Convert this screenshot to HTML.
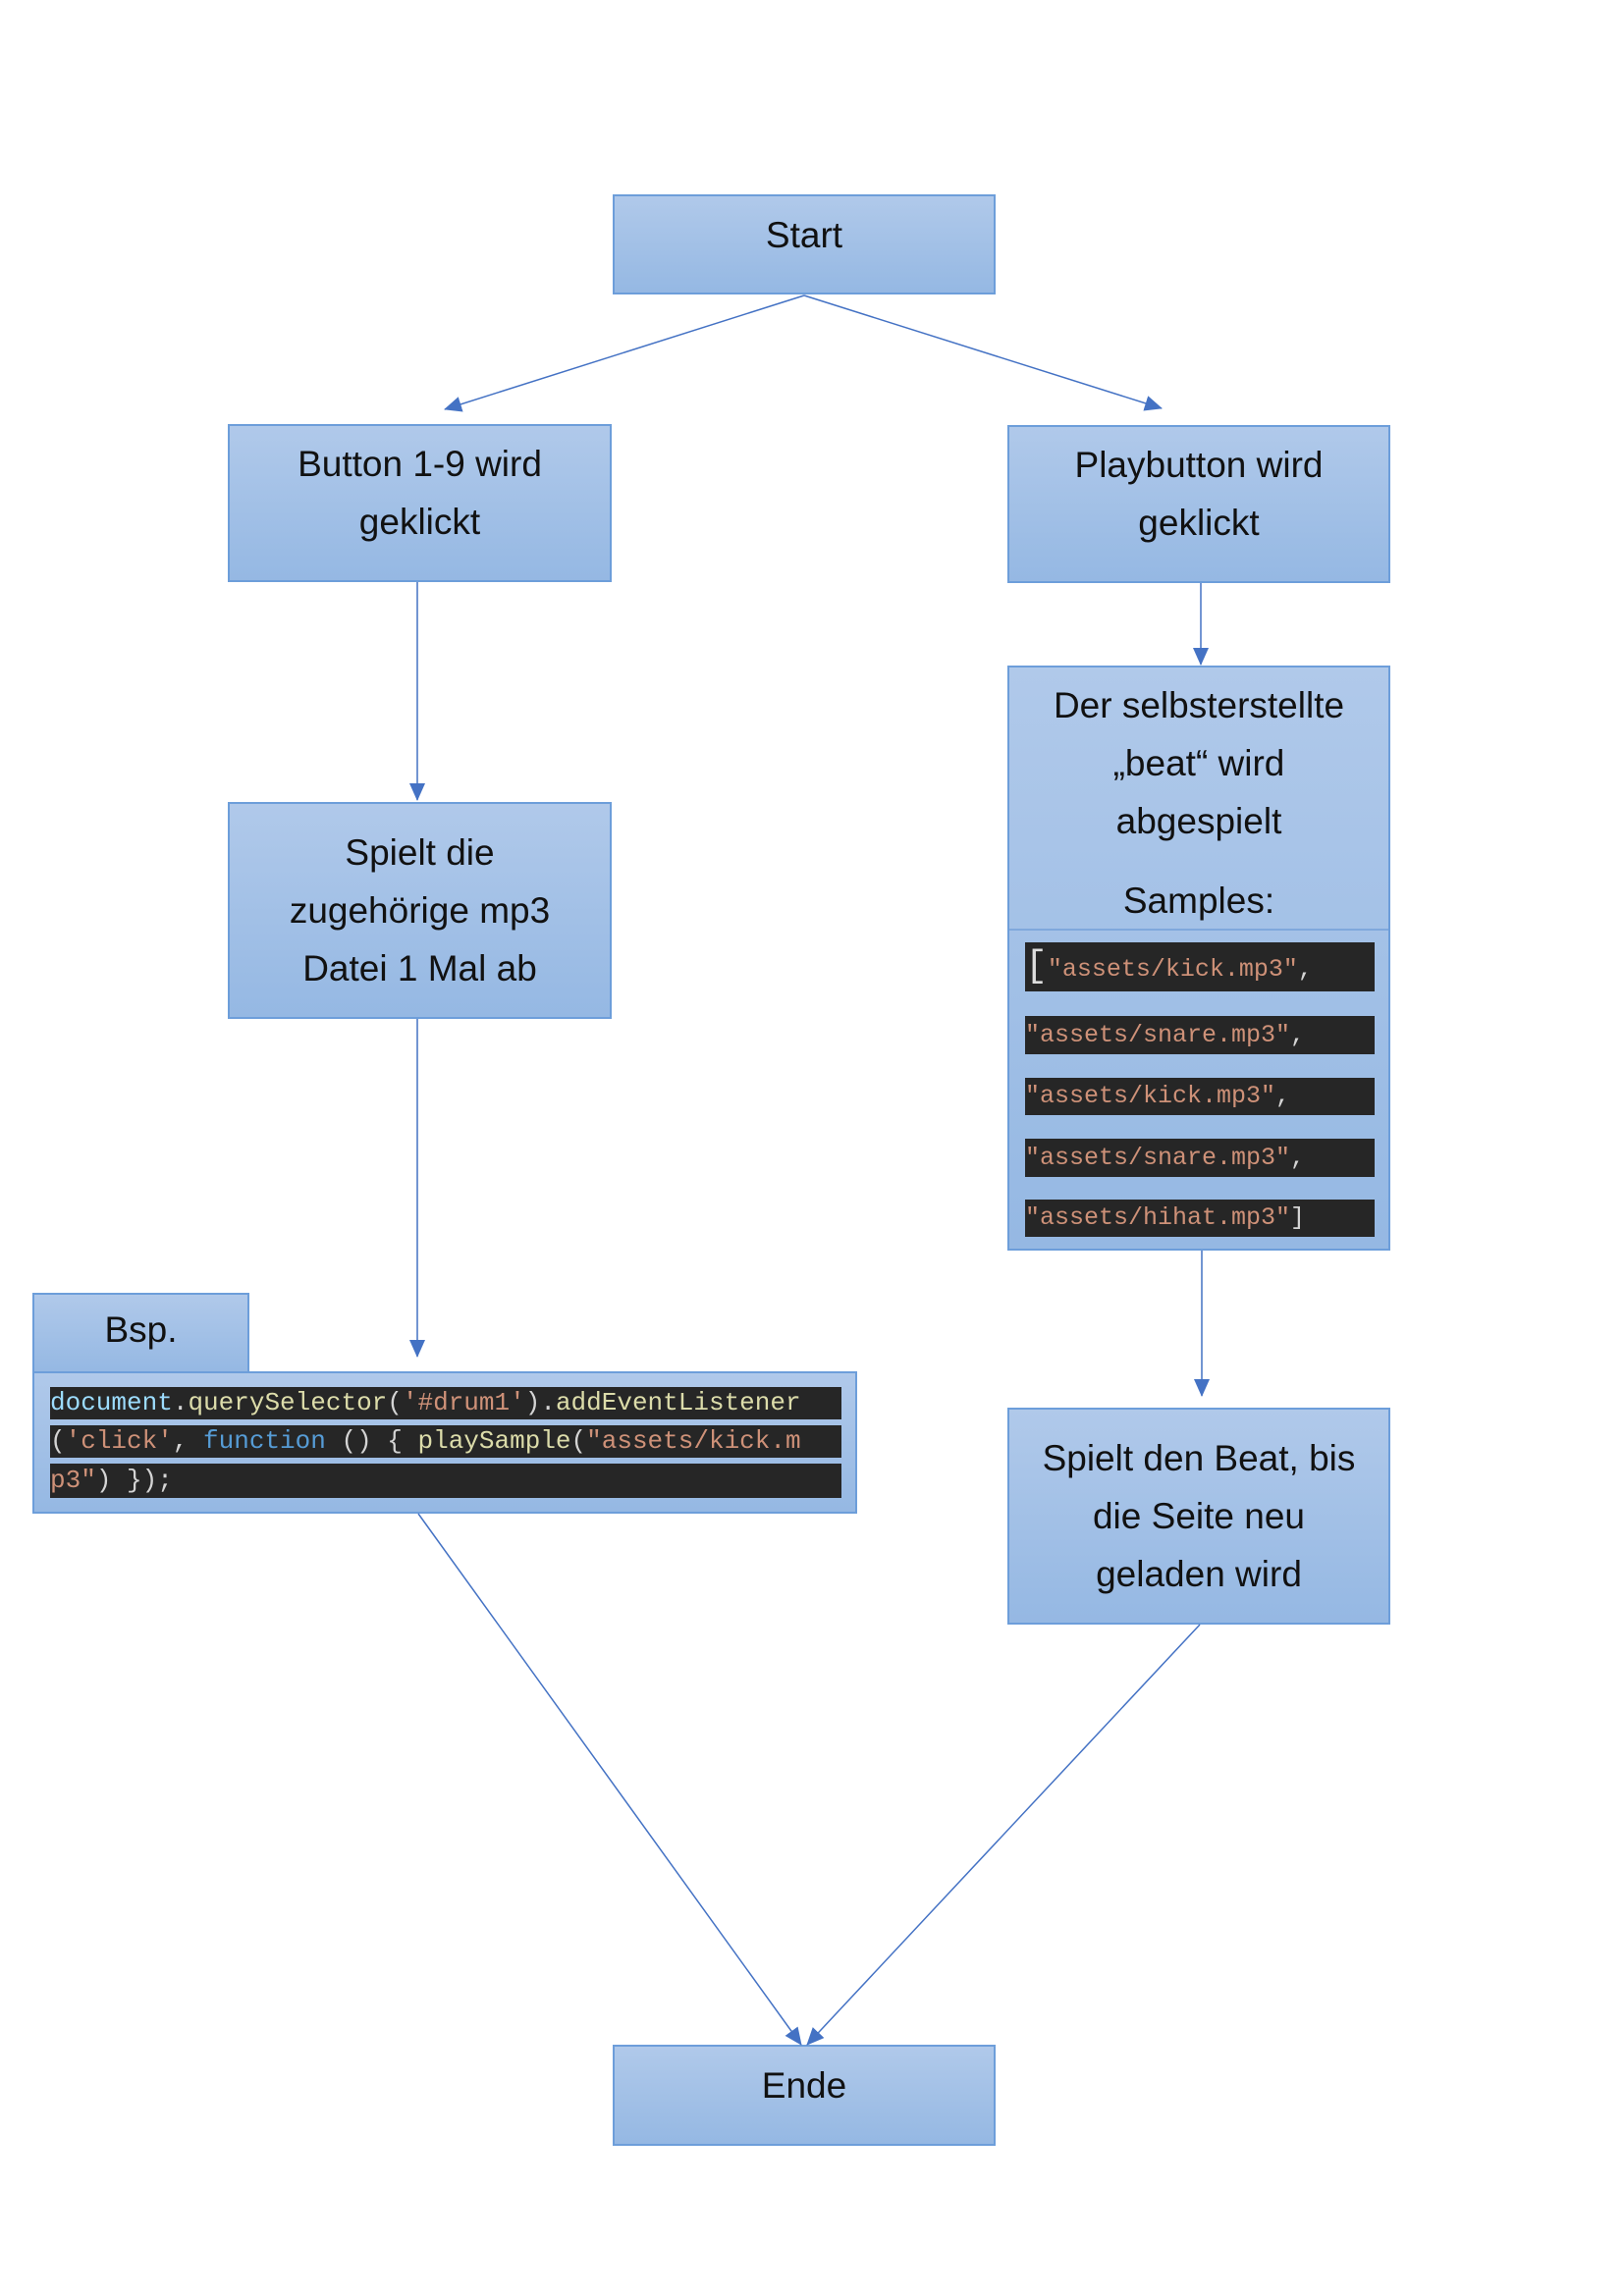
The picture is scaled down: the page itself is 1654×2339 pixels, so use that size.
<!DOCTYPE html>
<html><head><meta charset="utf-8"><style>
body{margin:0;width:1654px;height:2339px;background:#fff;position:relative;font-family:"Liberation Sans",sans-serif;overflow:hidden}
.b{position:absolute;box-sizing:border-box;border:2px solid #6d9eda;background:linear-gradient(#b0c9ea,#95b8e3);color:#111;text-align:center;font-size:37px;line-height:59px}
.bar{position:absolute;background:#262626;font-family:"Liberation Mono",monospace;white-space:pre;color:#d4d4d4;overflow:hidden}
.s{color:#ce9178}.k{color:#569cd6}.f{color:#dcdcaa}.v{color:#9cdcfe}
svg{position:absolute;left:0;top:0}
</style></head><body>
<div class="b" style="left:624px;top:198px;width:390px;height:102px;line-height:80px">Start</div>
<div class="b" style="left:232px;top:432px;width:391px;height:161px;padding-top:9px">Button 1-9 wird<br>geklickt</div>
<div class="b" style="left:1026px;top:433px;width:390px;height:161px;padding-top:9px">Playbutton wird<br>geklickt</div>
<div class="b" style="left:1026px;top:678px;width:390px;height:596px;padding-top:9px">Der selbsterstellte<br>„beat“ wird<br>abgespielt<br><div style="margin-top:22px">Samples:</div></div>
<div style="position:absolute;left:1028px;top:946px;width:386px;height:2px;background:#7fa8dc"></div>
<div class="bar" style="left:1044px;top:960px;width:356px;height:50px;font-size:25px;line-height:50px"><span style="font-size:38px;color:#ddd">[</span><span class="s">"assets/kick.mp3"</span>,</div>
<div class="bar" style="left:1044px;top:1035px;width:356px;height:39px;font-size:25px;line-height:39px"><span class="s">"assets/snare.mp3"</span>,</div>
<div class="bar" style="left:1044px;top:1098px;width:356px;height:38px;font-size:25px;line-height:38px"><span class="s">"assets/kick.mp3"</span>,</div>
<div class="bar" style="left:1044px;top:1160px;width:356px;height:39px;font-size:25px;line-height:39px"><span class="s">"assets/snare.mp3"</span>,</div>
<div class="bar" style="left:1044px;top:1222px;width:356px;height:38px;font-size:25px;line-height:38px"><span class="s">"assets/hihat.mp3"</span>]</div>
<div class="b" style="left:232px;top:817px;width:391px;height:221px;padding-top:20px">Spielt die<br>zugehörige mp3<br>Datei 1 Mal ab</div>
<div class="b" style="left:33px;top:1317px;width:221px;height:82px;line-height:72px">Bsp.</div>
<div class="b" style="left:33px;top:1397px;width:840px;height:145px"></div>
<div class="bar" style="left:51px;top:1413px;width:806px;height:33px;font-size:26px;line-height:33px"><span class="v">document</span>.<span class="f">querySelector</span>(<span class="s">'#drum1'</span>).<span class="f">addEventListener</span></div>
<div class="bar" style="left:51px;top:1452px;width:806px;height:33px;font-size:26px;line-height:33px">(<span class="s">'click'</span>, <span class="k">function</span> () { <span class="f">playSample</span>(<span class="s">"assets/kick.m</span></div>
<div class="bar" style="left:51px;top:1491px;width:806px;height:35px;font-size:26px;line-height:35px"><span class="s">p3"</span>) });</div>
<div class="b" style="left:1026px;top:1434px;width:390px;height:221px;padding-top:20px">Spielt den Beat, bis<br>die Seite neu<br>geladen wird</div>
<div class="b" style="left:624px;top:2083px;width:390px;height:103px;line-height:80px">Ende</div>
<svg width="1654" height="2339">
<defs><marker id="a" markerWidth="18" markerHeight="16" refX="17" refY="8" orient="auto" markerUnits="userSpaceOnUse" viewBox="0 0 18 16"><path d="M0,0L18,8L0,16z" fill="#4472c4"/></marker></defs>
<g stroke="#4472c4" stroke-width="1.5" fill="none" marker-end="url(#a)">
<line x1="819" y1="301" x2="453" y2="417"/>
<line x1="819" y1="301" x2="1183" y2="416"/>
<line x1="425" y1="593" x2="425" y2="815"/>
<line x1="1223" y1="594" x2="1223" y2="677"/>
<line x1="425" y1="1038" x2="425" y2="1382"/>
<line x1="1224" y1="1274" x2="1224" y2="1422"/>
<line x1="426" y1="1542" x2="816" y2="2083"/>
<line x1="1222" y1="1655" x2="822" y2="2083"/>
</g></svg>
</body></html>
